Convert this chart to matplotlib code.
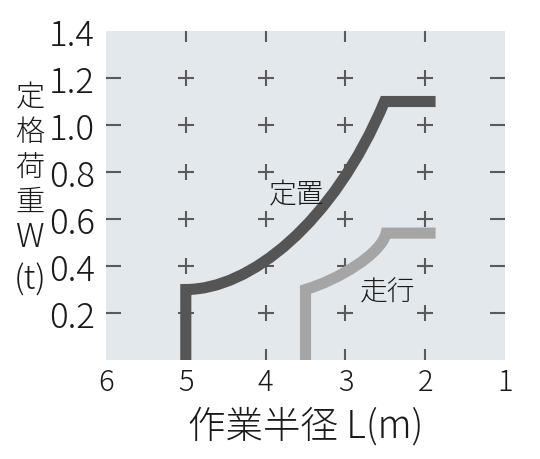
import numpy as np
import matplotlib.pyplot as plt
from matplotlib.path import Path
from matplotlib.patches import PathPatch
from matplotlib.ticker import FixedLocator

# ── data ──
x_ticks = [6, 5, 4, 3, 2, 1]
y_ticks = [0.2, 0.4, 0.6, 0.8, 1.0, 1.2, 1.4]
grid_x = [5, 4, 3, 2]
grid_y = [0.2, 0.4, 0.6, 0.8, 1.0, 1.2]

# 定置: vertical leg, curved rise (bezier control pts), flat top
fixed_x = [5.0, 5.0, 4.2, 3.15, 2.51, 1.87]
fixed_y = [0.0, 0.30, 0.30, 0.58, 1.10, 1.10]
# 走行
move_x = [3.5, 3.5, 3.1, 2.55, 2.49, 1.87]
move_y = [0.0, 0.30, 0.34, 0.45, 0.54, 0.54]

plt.rcParams["font.family"] = ["Noto Sans CJK JP", "DejaVu Sans"]

BG = "#e3e8ed"
DARK = "#555555"
LIGHT = "#a5a5a5"
MARK = "#5a5a5a"
TXT = "#1a1a1a"

fig = plt.figure(figsize=(5.4, 4.6), dpi=100)
ax = fig.add_axes([106 / 540, 1 - 361 / 460, 399 / 540, 329 / 460])
ax.set_facecolor(BG)
for s in ax.spines.values():
    s.set_visible(False)

ax.set_xlim(6, 1)
ax.set_ylim(0, 1.4)

# plus marks at grid crossings
gx, gy = np.meshgrid(grid_x, grid_y)
ax.plot(gx.ravel(), gy.ravel(), "+", color=MARK, markersize=11.5,
        markeredgewidth=1.5, zorder=1)

# load curves: line, cubic bezier, line
codes = [Path.MOVETO, Path.LINETO, Path.CURVE4, Path.CURVE4, Path.CURVE4, Path.LINETO]
for xs, ys, col in [(fixed_x, fixed_y, DARK), (move_x, move_y, LIGHT)]:
    path = Path(np.column_stack([xs, ys]), codes)
    ax.add_patch(PathPatch(path, facecolor="none", edgecolor=col, linewidth=8,
                           capstyle="butt", joinstyle="miter", zorder=3))

ax.text(3.61, 0.71, "定置", fontsize=20, ha="center", va="center",
        color=TXT, zorder=4, weight="light")
ax.text(2.47, 0.29, "走行", fontsize=20, ha="center", va="center",
        color=TXT, zorder=4, weight="light")

# labels on major ticks, marks on minor ticks
ax.set_xticks(x_ticks)
ax.set_xticklabels([str(v) for v in x_ticks])
ax.set_yticks(y_ticks)
ax.set_yticklabels([f"{v:.1f}" for v in y_ticks])
ax.xaxis.set_minor_locator(FixedLocator(grid_x))
ax.yaxis.set_minor_locator(FixedLocator(grid_y))
ax.xaxis.remove_overlapping_locs = False
ax.yaxis.remove_overlapping_locs = False

ax.tick_params(axis="both", which="major", length=0, colors=TXT)
ax.tick_params(axis="x", which="major", labelsize=21, pad=5)
ax.tick_params(axis="y", which="major", labelsize=25, pad=8)
ax.tick_params(axis="x", which="minor", direction="in", length=8, width=1.5,
               color=MARK, top=True, bottom=True)
ax.tick_params(axis="y", which="minor", direction="in", length=11, width=1.5,
               color=MARK, left=True, right=True)
for lab in ax.get_xticklabels() + ax.get_yticklabels():
    lab.set_fontweight("light")

ax.set_xlabel("作業半径 L(m)", fontsize=27, labelpad=6, color=TXT,
              fontweight="light")

# vertical y label, one character per line
ylab = ["定", "格", "荷", "重", "W", "(t)"]
ypos = [98, 133, 168, 203, 238, 280]
ysize = [21, 21, 21, 21, 24, 24]
for ch, yp, fs in zip(ylab, ypos, ysize):
    fig.text(30 / 540, 1 - yp / 460, ch, fontsize=fs, ha="center",
             va="center", color=TXT, fontweight="light")

fig.savefig("out.png", dpi=100, facecolor="white")
